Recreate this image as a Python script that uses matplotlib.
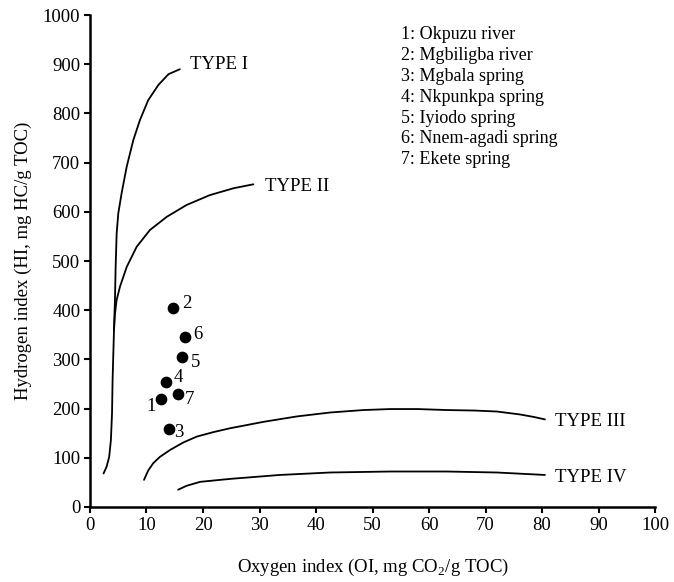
import matplotlib
matplotlib.use('Agg')
import matplotlib.pyplot as plt

plt.rcParams['font.family'] = ['Liberation Serif', 'DejaVu Serif']
plt.rcParams['mathtext.fontset'] = 'custom'
plt.rcParams['mathtext.rm'] = 'Liberation Serif'

# Kerogen type reference curves (OI, HI)
type1_oi = [2.4, 2.95, 3.4, 3.7, 3.9, 4.0, 4.25, 4.42, 4.54, 4.72, 5.01, 5.6, 6.5, 7.67, 8.85,
            10.3, 12.1, 13.9, 15.9]
type1_hi = [68, 82, 102, 136, 190, 258, 360, 421, 488, 556, 597, 638, 692, 746, 787,
            827, 858, 880, 890]

type2_oi = [4.25, 4.4, 4.7, 5.31, 6.5, 8.26, 10.6, 13.6, 17.1, 21.2, 25.4, 28.9]
type2_hi = [360, 390, 420, 448, 488, 529, 563, 590, 614, 634, 648, 656]

type3_oi = [9.56, 10.3, 11.2, 12.4, 14.2, 16.5, 18.9, 21.8, 24.8, 30.7, 36.6, 42.5, 48.4,
            53.1, 58.0, 63.1, 68.0, 72.0, 76.1, 78.5, 80.5]
type3_hi = [55, 74, 89, 102, 116, 131, 143, 152, 160, 173, 184, 192, 197,
            199, 199, 197, 196, 194, 188, 183, 178]

type4_oi = [15.6, 17.1, 19.5, 24.8, 33.6, 42.5, 53.1, 63.1, 72.0, 80.5]
type4_hi = [35, 43, 51, 57, 65, 70, 72, 72, 70, 65]

# Sample points
sample_ids = ['1', '2', '3', '4', '5', '6', '7']
sample_names = ['Okpuzu river', 'Mgbiligba river', 'Mgbala spring', 'Nkpunkpa spring',
                'Iyiodo spring', 'Nnem-agadi spring', 'Ekete spring']
sample_oi = [12.6, 14.7, 13.9, 13.5, 16.3, 16.8, 15.5]
sample_hi = [219, 405, 158, 255, 304, 346, 229]

# label offsets in points
offsets = [(-7.0, -5.5), (9.8, 2.7), (7.5, -2.5), (8.6, 3.0), (9.8, -3.4), (9.3, 1.9), (8.6, -3.8)]

fig = plt.figure(figsize=(6.74, 5.82), dpi=100)
ax = fig.add_axes([0.1335, 0.129, 0.8385, 0.845])

lw = 1.3
for xs, ys in [(type1_oi, type1_hi), (type2_oi, type2_hi),
               (type3_oi, type3_hi), (type4_oi, type4_hi)]:
    ax.plot(xs, ys, color='black', lw=lw, solid_joinstyle='round', solid_capstyle='round')

ax.text(17.7, 899, 'TYPE I', fontsize=13.5, va='center', ha='left')
ax.text(31.0, 651, 'TYPE II', fontsize=13.5, va='center', ha='left')
ax.text(82.3, 173, 'TYPE III', fontsize=13.5, va='center', ha='left')
ax.text(82.3, 60, 'TYPE IV', fontsize=13.5, va='center', ha='left')

ax.scatter(sample_oi, sample_hi, s=55, color='black', zorder=3)
for sid, x, y, off in zip(sample_ids, sample_oi, sample_hi, offsets):
    ax.annotate(sid, (x, y), xytext=off, textcoords='offset points',
                fontsize=13.5, va='center', ha='center')

legend_text = '\n'.join(f'{i}: {n}' for i, n in zip(sample_ids, sample_names))
ax.text(0.551, 0.978, legend_text, transform=ax.transAxes, fontsize=13,
        va='top', ha='left', linespacing=1.3)

ax.set_xlim(0, 100)
ax.set_ylim(0, 1000)
ax.set_xticks(range(0, 101, 10))
ax.set_yticks(range(0, 1001, 100))
ax.spines['top'].set_visible(False)
ax.spines['right'].set_visible(False)
ax.spines['left'].set_linewidth(1.8)
ax.spines['bottom'].set_linewidth(1.8)
ax.tick_params(direction='out', length=4, width=1.5, labelsize=13.5, pad=3)

ax.set_xlabel('Oxygen index (OI, mg CO$_2$/g TOC)', fontsize=13.5, labelpad=17)
ax.set_ylabel('Hydrogen index (HI, mg HC/g TOC)', fontsize=13.5, labelpad=8)

fig.savefig('out.png', dpi=100)
